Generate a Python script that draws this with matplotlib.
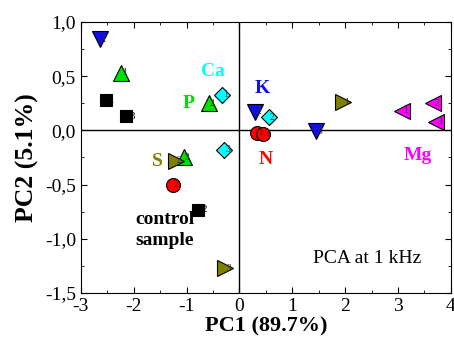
import matplotlib.pyplot as plt
from matplotlib.ticker import MultipleLocator, FuncFormatter

plt.rcParams['font.family'] = ['Liberation Serif', 'DejaVu Serif']
plt.rcParams['axes.unicode_minus'] = False

# datos de cada grupo (PC1, PC2)
control_x = [-2.53, -0.78, -2.15]
control_y = [0.28, -0.73, 0.13]
n_x = [0.33, -1.26, 0.45]
n_y = [-0.02, -0.50, -0.03]
ca_x = [-0.33, 0.56, -0.29]
ca_y = [0.33, 0.12, -0.18]
k_x = [-2.64, 0.30, 1.45]
k_y = [0.84, 0.17, -0.01]
p_x = [-2.24, -0.58, -1.05]
p_y = [0.53, 0.25, -0.25]
s_x = [1.96, -1.20, -0.27]
s_y = [0.26, -0.28, -1.27]
mg_x = [3.08, 3.67, 3.72]
mg_y = [0.18, 0.25, 0.08]
numeros = ['1', '2', '3']

grupos = [
    (control_x, control_y, 's', 'black', 9),
    (n_x, n_y, 'o', 'red', 10),
    (ca_x, ca_y, 'D', 'cyan', 8),
    (k_x, k_y, 'v', '#1010e0', 11),
    (p_x, p_y, '^', '#00e000', 11),
    (s_x, s_y, '>', '#808000', 11),
    (mg_x, mg_y, '<', 'magenta', 11),
]

fig = plt.figure(figsize=(4.54, 3.5), dpi=100)
ax = fig.add_axes([0.178, 0.163, 0.815, 0.774])

ax.axhline(0, color='black', lw=1, zorder=1)
ax.axvline(0, color='black', lw=1, zorder=1)

for xs, ys, m, c, ms in grupos:
    ax.plot(xs, ys, m, color=c, mec='black', mew=0.8, ms=ms, zorder=3)
    for x, y, t in zip(xs, ys, numeros):
        if m == 's':
            ax.text(x + 0.07, y, t, fontsize=8, va='center', zorder=4)
        else:
            ax.text(x + 0.02, y, t, fontsize=7, va='center', color='#303030', zorder=4)

# etiquetas de los grupos
kw = dict(fontsize=14, fontweight='bold', ha='center', va='center')
ax.text(-0.5, 0.54, 'Ca', color='cyan', **kw)
ax.text(-0.97, 0.25, 'P', color='#00e000', **kw)
ax.text(0.43, 0.39, 'K', color='#1010e0', **kw)
ax.text(0.49, -0.27, 'N', color='red', **kw)
ax.text(3.38, -0.23, 'Mg', color='magenta', **kw)
ax.text(-1.56, -0.29, 'S', color='#808000', **kw)
ax.text(-1.41, -0.92, 'control\nsample', color='black', linespacing=1.3, **kw)
ax.text(2.42, -1.18, 'PCA at 1 kHz', fontsize=14, ha='center', va='center')

ax.set_xlim(-3, 4)
ax.set_ylim(-1.5, 1.0)
ax.xaxis.set_major_locator(MultipleLocator(1))
ax.xaxis.set_minor_locator(MultipleLocator(0.5))
ax.yaxis.set_major_locator(MultipleLocator(0.5))
ax.yaxis.set_minor_locator(MultipleLocator(0.25))
ax.yaxis.set_major_formatter(FuncFormatter(lambda v, p: ('%.1f' % v).replace('.', ',')))
ax.tick_params(which='both', direction='in', top=True, right=True, labelsize=14)
ax.tick_params(which='major', length=4)
ax.tick_params(which='minor', length=2)

ax.set_xlabel('PC1 (89.7%)', fontsize=16, fontweight='bold', labelpad=1)
ax.set_ylabel('PC2 (5.1%)', fontsize=18.5, fontweight='bold', labelpad=4)

plt.savefig('out.png', dpi=100)
